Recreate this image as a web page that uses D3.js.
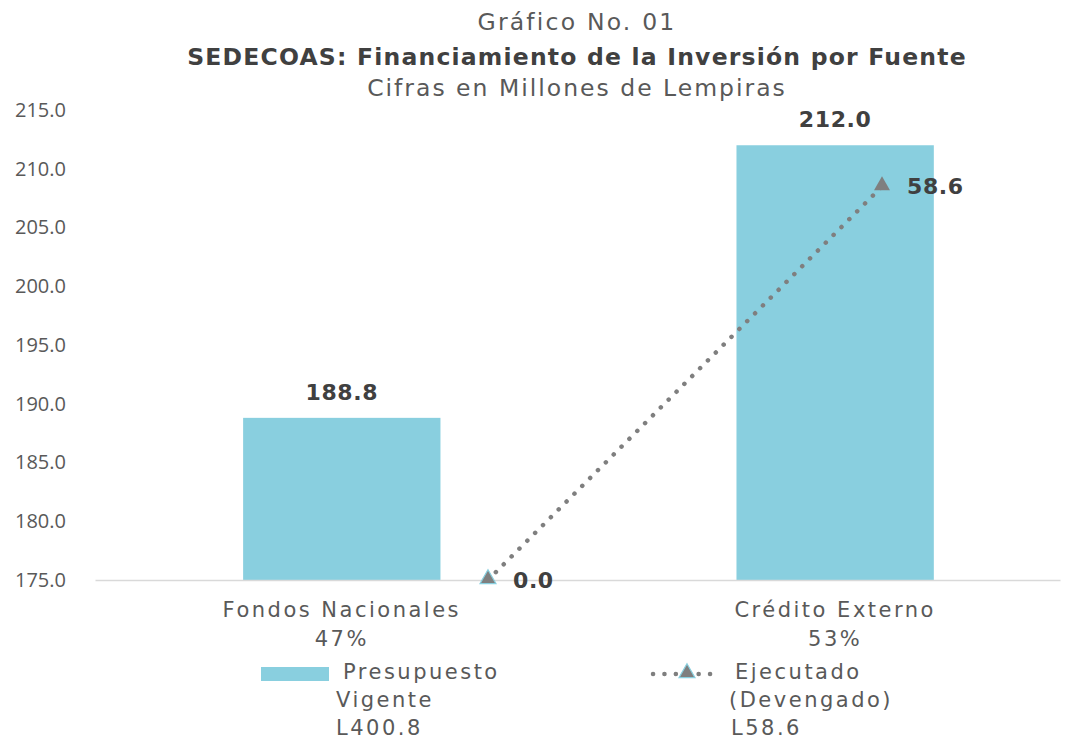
<!DOCTYPE html>
<html>
  <head>
    <meta charset="utf-8">
    <title>SEDECOAS</title>
    <script src="https://d3js.org/d3.v7.min.js"></script>
    <style>
      body { margin: 0; background: #fff; }
    </style>
  </head>
  <body>
    <script>
        // data
        var categories = ["Fondos Nacionales", "Crédito Externo"];
        var shares = ["47%", "53%"];
        var presupuesto = [188.8, 212.0];
        var ejecutado = [0.0, 58.6];
        var yTicks = [175, 180, 185, 190, 195, 200, 205, 210, 215];
        var legendItems = [
            ["Presupuesto", "Vigente", "L400.8"],
            ["Ejecutado", "(Devengado)", "L58.6"]
        ];

        var width = 1068, height = 740;
        var pLeft = 95, pRight = 1060, pTop = 110, pBottom = 580;
        var font = "'DejaVu Sans', sans-serif";

        var svg = d3.select("body").append("svg")
            .attr("width", width)
            .attr("height", height)
            .style("font-family", font)
        ;

        var xScale = d3.scaleBand()
            .domain(categories)
            .range([pLeft, pRight])
            .paddingInner(0.6)
            .paddingOuter(0.278)
            .align(0.54)
        ;
        var yScale = d3.scaleLinear()
            .domain([175, 215])
            .range([pBottom, pTop])
        ;
        // hidden secondary axis for the line
        var y2Scale = d3.scaleLinear()
            .domain([0, 70])
            .range([pBottom, pTop])
        ;
        var xLine = d3.scalePoint()
            .domain(categories)
            .range([pLeft + 393, pLeft + 787])
        ;

        // titles
        var titles = [
            ["Gráfico No. 01", 22, 400, "#595959", 2.2],
            ["SEDECOAS: Financiamiento de la Inversión por Fuente", 57, 700, "#404040", 1.2],
            ["Cifras en Millones de Lempiras", 88, 400, "#595959", 2.0]
        ];
        svg.selectAll("text.title")
            .data(titles)
            .enter()
            .append("text")
            .classed("title", true)
            .attr("x", 577)
            .attr("y", (d) => d[1])
            .attr("dy", "0.35em")
            .attr("text-anchor", "middle")
            .attr("font-size", 23.5)
            .attr("font-weight", (d) => d[2])
            .attr("letter-spacing", (d) => d[4])
            .attr("fill", (d) => d[3])
            .text((d) => d[0])
        ;

        // y axis
        var axisY = d3.axisLeft(yScale)
            .tickValues(yTicks)
            .tickFormat(d3.format(".1f"))
            .tickSize(0)
            .tickPadding(29)
        ;
        svg.append("g")
            .attr("transform", "translate(" + pLeft + ",0)")
            .call(axisY)
            .call((g) => g.select(".domain").remove())
            .call((g) => g.selectAll("text")
                .attr("font-family", "'Open Sans', sans-serif")
                .attr("font-size", 20)
                .attr("fill", "#595959"))
        ;

        // bars
        svg.selectAll("rect.bar")
            .data(presupuesto)
            .enter()
            .append("rect")
            .classed("bar", true)
            .attr("x", (d, i) => xScale(categories[i]))
            .attr("y", (d) => yScale(d))
            .attr("width", xScale.bandwidth())
            .attr("height", (d) => pBottom - yScale(d))
            .attr("fill", "#89cfdf")
        ;

        // x axis line
        var axisX = d3.axisBottom(xScale).tickSize(0).tickFormat("");
        svg.append("g")
            .attr("transform", "translate(0," + pBottom + ")")
            .call(axisX)
            .call((g) => g.select(".domain").attr("stroke", "#d9d9d9").attr("stroke-width", 1.5))
        ;

        // bar labels
        svg.selectAll("text.barlabel")
            .data(presupuesto)
            .enter()
            .append("text")
            .classed("barlabel", true)
            .attr("x", (d, i) => xScale(categories[i]) + xScale.bandwidth() / 2)
            .attr("y", (d) => yScale(d) - 26)
            .attr("dy", "0.35em")
            .attr("text-anchor", "middle")
            .attr("font-size", 22)
            .attr("font-weight", 700)
            .attr("letter-spacing", 0.6)
            .attr("fill", "#404040")
            .text((d) => d.toFixed(1))
        ;

        // line
        var line = d3.line()
            .x((d, i) => xLine(categories[i]))
            .y((d) => y2Scale(d))
        ;
        svg.append("path")
            .datum(ejecutado)
            .attr("d", line)
            .attr("fill", "none")
            .attr("stroke", "#7f7f7f")
            .attr("stroke-width", 4.5)
            .attr("stroke-linecap", "round")
            .attr("stroke-dasharray", "0.1,11")
        ;
        var tri = d3.symbol().type(d3.symbolTriangle).size(110);
        svg.selectAll("path.marker")
            .data(ejecutado)
            .enter()
            .append("path")
            .classed("marker", true)
            .attr("d", tri)
            .attr("transform", (d, i) => "translate(" + xLine(categories[i]) + "," + (y2Scale(d) - 1) + ")")
            .attr("fill", "#7f7f7f")
            .attr("stroke", (d, i) => i === 0 ? "#89cfdf" : "none")
            .attr("stroke-width", 1.2)
        ;
        svg.selectAll("text.linelabel")
            .data(ejecutado)
            .enter()
            .append("text")
            .classed("linelabel", true)
            .attr("x", (d, i) => xLine(categories[i]) + 25)
            .attr("y", (d) => y2Scale(d))
            .attr("dy", "0.35em")
            .attr("font-size", 22)
            .attr("font-weight", 700)
            .attr("letter-spacing", 0.6)
            .attr("fill", "#404040")
            .text((d) => d.toFixed(1))
        ;

        // category labels
        var catG = svg.selectAll("g.cat")
            .data(categories)
            .enter()
            .append("g")
            .classed("cat", true)
            .attr("transform", (d) => "translate(" + (xScale(d) + xScale.bandwidth() / 2) + ",0)")
        ;
        catG.append("text")
            .attr("y", 610)
            .attr("dy", "0.35em")
            .attr("text-anchor", "middle")
            .attr("font-size", 21)
            .attr("letter-spacing", 2.5)
            .attr("fill", "#595959")
            .text((d) => d)
        ;
        catG.append("text")
            .attr("y", 639)
            .attr("dy", "0.35em")
            .attr("text-anchor", "middle")
            .attr("font-size", 21)
            .attr("letter-spacing", 2.5)
            .attr("fill", "#595959")
            .text((d, i) => shares[i])
        ;

        // legend
        var leg = svg.append("g");
        leg.append("rect")
            .attr("x", 261).attr("y", 667)
            .attr("width", 68).attr("height", 14)
            .attr("fill", "#89cfdf")
        ;
        leg.append("line")
            .attr("x1", 653).attr("x2", 717)
            .attr("y1", 674).attr("y2", 674)
            .attr("stroke", "#7f7f7f")
            .attr("stroke-width", 4.5)
            .attr("stroke-linecap", "round")
            .attr("stroke-dasharray", "0.1,11.3")
        ;
        leg.append("path")
            .attr("d", tri)
            .attr("transform", "translate(687,673)")
            .attr("fill", "#7f7f7f")
            .attr("stroke", "#89cfdf")
            .attr("stroke-width", 1.2)
        ;
        var legX = [[343, 336, 336], [735, 729, 731]];
        legendItems.forEach((item, k) => {
            item.forEach((t, j) => {
                leg.append("text")
                    .attr("x", legX[k][j])
                    .attr("y", 672 + j * 28)
                    .attr("dy", "0.35em")
                    .attr("font-size", 21)
                    .attr("letter-spacing", 2.5)
                    .attr("fill", "#595959")
                    .text(t)
                ;
            });
        });
    </script>
  </body>
</html>
